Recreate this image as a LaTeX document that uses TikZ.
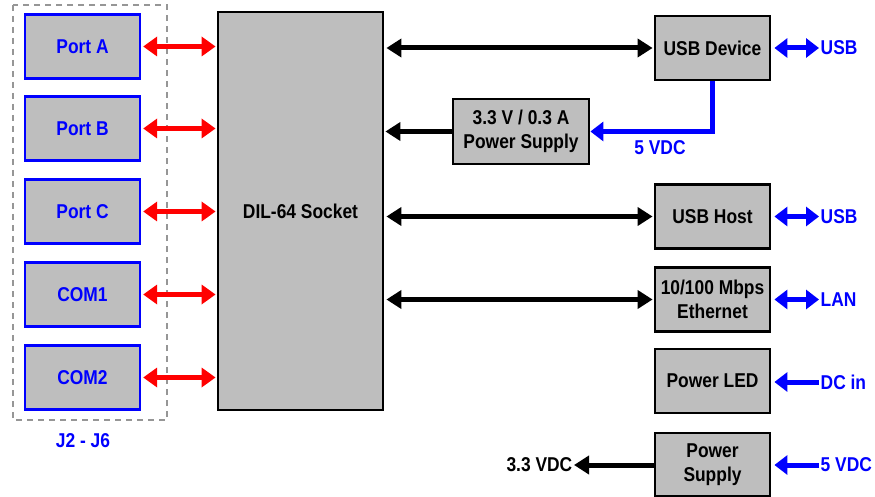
\documentclass[tikz,border=0pt]{standalone}
\usepackage{fontspec}
\setmainfont{Liberation Sans}[FakeStretch=0.87]
\usepackage{tikz}
\usetikzlibrary{arrows.meta, positioning, calc}
\definecolor{boxgray}{RGB}{190,190,190}
\definecolor{frmgray}{RGB}{150,150,150}
\definecolor{pblue}{RGB}{0,0,255}
\definecolor{pred}{RGB}{255,0,0}
\tikzset{
  blk/.style={rectangle, draw=black, fill=boxgray, line width=2.8pt,
    minimum width=115pt, minimum height=64pt, align=center,
    font=\fontsize{20}{23.5}\selectfont\bfseries, inner sep=2pt},
  portblk/.style={blk, draw=pblue, text=pblue, line width=2.3pt},
  extlabel/.style={font=\fontsize{20}{23.5}\selectfont\bfseries, text=pblue, inner sep=1.5pt},
  redarrow/.style={{Triangle[length=14pt,width=19pt]}-{Triangle[length=14pt,width=19pt]},
    line width=5pt, color=pred, shorten <=2pt, shorten >=1pt},
  arrow/.style={-{Triangle[length=15pt,width=18pt]}, line width=5pt, color=black},
  dblarrow/.style={{Triangle[length=15pt,width=18pt]}-{Triangle[length=15pt,width=18pt]},
    line width=5pt, color=black, shorten <=2pt, shorten >=1pt},
  bluearrow/.style={-{Triangle[length=13pt,width=19pt]}, line width=5pt, color=pblue},
  bluedbl/.style={{Triangle[length=13pt,width=19pt]}-{Triangle[length=13pt,width=19pt]},
    line width=5pt, color=pblue, shorten <=3pt}
}
\begin{document}
\begin{tikzpicture}[x=1pt, y=-1pt]
  \useasboundingbox (0,0) rectangle (875,497);
  % connector group
  \draw[frmgray, line width=2.6pt, dash pattern=on 6pt off 5pt] (13,5) rectangle (167,420);
  \node[extlabel] (jlbl) at (83,441) {J2 - J6};
  \node[portblk] (porta) at (82.5,46.5) {Port A};
  \node[portblk] (portb) at (82.5,128.5) {Port B};
  \node[portblk] (portc) at (82.5,211.5) {Port C};
  \node[portblk] (com1) at (82.5,294.5) {COM1};
  \node[portblk] (com2) at (82.5,377.5) {COM2};
  % socket
  \node[blk, minimum width=165pt, minimum height=398pt] (dil) at (300.5,211) {DIL-64 Socket};
  \foreach \p in {porta,portb,portc,com1,com2}
    \draw[redarrow] (\p.east) -- (\p.east -| dil.west);
  % right column
  \node[blk] (usbd) at (712.5,48) {USB Device};
  \node[blk, minimum width=136pt, minimum height=65pt] (psa) at (521,131.5) {3.3 V / 0.3 A\\Power Supply};
  \node[blk] (usbh) at (712.5,216.5) {USB Host};
  \node[blk] (eth) at (712.5,299.5) {10/100 Mbps\\Ethernet};
  \node[blk] (led) at (712.5,381) {Power LED};
  \node[blk, minimum height=63pt] (psu) at (712.5,464.5) {Power\\Supply};
  \draw[dblarrow] (dil.east |- usbd) -- (usbd.west);
  \draw[dblarrow] (dil.east |- usbh) -- (usbh.west);
  \draw[dblarrow] (dil.east |- eth) -- (eth.west);
  \draw[arrow, shorten >=1pt] (psa.west) -- (psa.west -| dil.east);
  \draw[bluearrow, line width=5.5pt] (usbd.south) |- (psa.east);
  \node[extlabel] (vdc5a) at (660,148) {5 VDC};
  % outside signals
  \node[extlabel, anchor=west] (usb1) at (819,48) {USB};
  \node[extlabel, anchor=west] (usb2) at (819,216.5) {USB};
  \node[extlabel, anchor=west] (lan) at (819,299.5) {LAN};
  \node[extlabel, anchor=west] (dcin) at (819,382) {DC in};
  \node[extlabel, anchor=west] (vdc5b) at (819,465) {5 VDC};
  \node[extlabel, text=black, anchor=east] (vdc33) at (574,465) {3.3 VDC};
  \draw[bluedbl] (usbd.east) -- (usb1.west);
  \draw[bluedbl] (usbh.east) -- (usb2.west);
  \draw[bluedbl] (eth.east) -- (lan.west);
  \draw[bluearrow, shorten >=3pt] (dcin.west) -- (dcin.west -| led.east);
  \draw[bluearrow, shorten >=3pt] (vdc5b.west) -- (vdc5b.west -| psu.east);
  \draw[arrow] (psu.west |- vdc33) -- (vdc33.east);
\end{tikzpicture}
\end{document}
